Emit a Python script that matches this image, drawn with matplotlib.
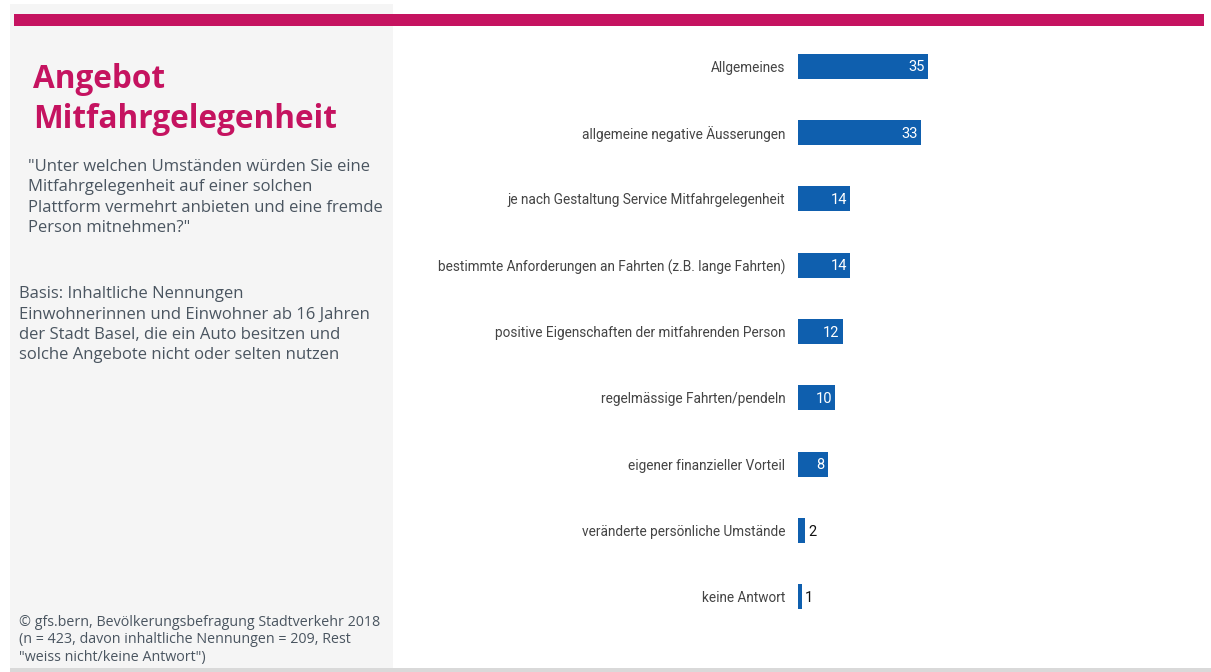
import matplotlib
matplotlib.use("Agg")
import matplotlib.pyplot as plt
from matplotlib.patches import Rectangle
from matplotlib import font_manager

categories = [
    "Allgemeines",
    "allgemeine negative Äusserungen",
    "je nach Gestaltung Service Mitfahrgelegenheit",
    "bestimmte Anforderungen an Fahrten (z.B. lange Fahrten)",
    "positive Eigenschaften der mitfahrenden Person",
    "regelmässige Fahrten/pendeln",
    "eigener finanzieller Vorteil",
    "veränderte persönliche Umstände",
    "keine Antwort",
]
values = [35, 33, 14, 14, 12, 10, 8, 2, 1]

question = ('"Unter welchen Umständen würden Sie eine\nMitfahrgelegenheit auf einer solchen\n'
            'Plattform vermehrt anbieten und eine fremde\nPerson mitnehmen?"')
basis = ("Basis: Inhaltliche Nennungen\nEinwohnerinnen und Einwohner ab 16 Jahren\n"
         "der Stadt Basel, die ein Auto besitzen und\nsolche Angebote nicht oder selten nutzen")
footer = ('© gfs.bern, Bevölkerungsbefragung Stadtverkehr 2018\n(n = 423, davon inhaltliche Nennungen = 209, Rest\n'
          '"weiss nicht/keine Antwort")')

avail = {f.name for f in font_manager.fontManager.ttflist}
narrow = "Liberation Sans Narrow" if "Liberation Sans Narrow" in avail else "Roboto"
body = "Open Sans"

W, H = 1211, 672
fig = plt.figure(figsize=(W / 100, H / 100), dpi=100)
fig.patch.set_facecolor("white")

def px(x0, y0, x1, y1):
    return [x0 / W, 1 - y1 / H, (x1 - x0) / W, (y1 - y0) / H]

fig.add_artist(Rectangle((10 / W, 1 - 668 / H), 383 / W, 664 / H, transform=fig.transFigure,
                         facecolor="#f5f5f5", edgecolor="none", zorder=0))
fig.add_artist(Rectangle((10 / W, 0), 1201 / W, 4 / H, transform=fig.transFigure,
                         facecolor="#d9d9d9", edgecolor="none", zorder=0))
fig.add_artist(Rectangle((14 / W, 1 - 26 / H), 1190 / W, 12 / H, transform=fig.transFigure,
                         facecolor="#c51360", edgecolor="none", zorder=1))

fig.text(33 / W, 1 - 80 / H, "Angebot", color="#c51360", fontsize=22.7, fontweight="bold",
         family=body, va="center", ha="left")
fig.text(33 / W, 1 - 120 / H, "Mitfahrgelegenheit", color="#c51360", fontsize=22.7, fontweight="bold",
         family=body, va="center", ha="left")
fig.text(28 / W, 1 - 159 / H, question, color="#4a5560", fontsize=12, family=body,
         va="top", ha="left", linespacing=1.37)
fig.text(19 / W, 1 - 286 / H, basis, color="#4a5560", fontsize=12, family=body,
         va="top", ha="left", linespacing=1.37)
fig.text(19 / W, 1 - 615 / H, footer, color="#4a5560", fontsize=10.3, family=body,
         va="top", ha="left", linespacing=1.22)

scale = 3.72
ax_x0, ax_x1 = 798, 1204
ax = fig.add_axes(px(ax_x0, 33, ax_x1, 630))
ax.set_facecolor("none")
ypos = list(range(len(categories)))
ax.barh(ypos, values, height=0.38, color="#0f5fae", edgecolor="none")
ax.set_xlim(0, (ax_x1 - ax_x0) / scale)
ax.set_ylim(len(categories) - 0.5, -0.5)
ax.set_yticks(ypos)
ax.set_yticklabels(categories, family=narrow, fontsize=9.8, color="#444444")
ax.tick_params(axis="y", length=0, pad=9)
ax.set_xticks([])
for s in ax.spines.values():
    s.set_visible(False)

for y, v in zip(ypos, values):
    if v >= 5:
        ax.text(v - 0.8, y + 0.02, str(v), color="white", ha="right", va="center",
                family=narrow, fontsize=10.5)
    else:
        ax.text(v + 0.8, y + 0.02, str(v), color="#111111", ha="left", va="center",
                family=narrow, fontsize=10.5)

fig.savefig("out.png", dpi=100, facecolor="white")
